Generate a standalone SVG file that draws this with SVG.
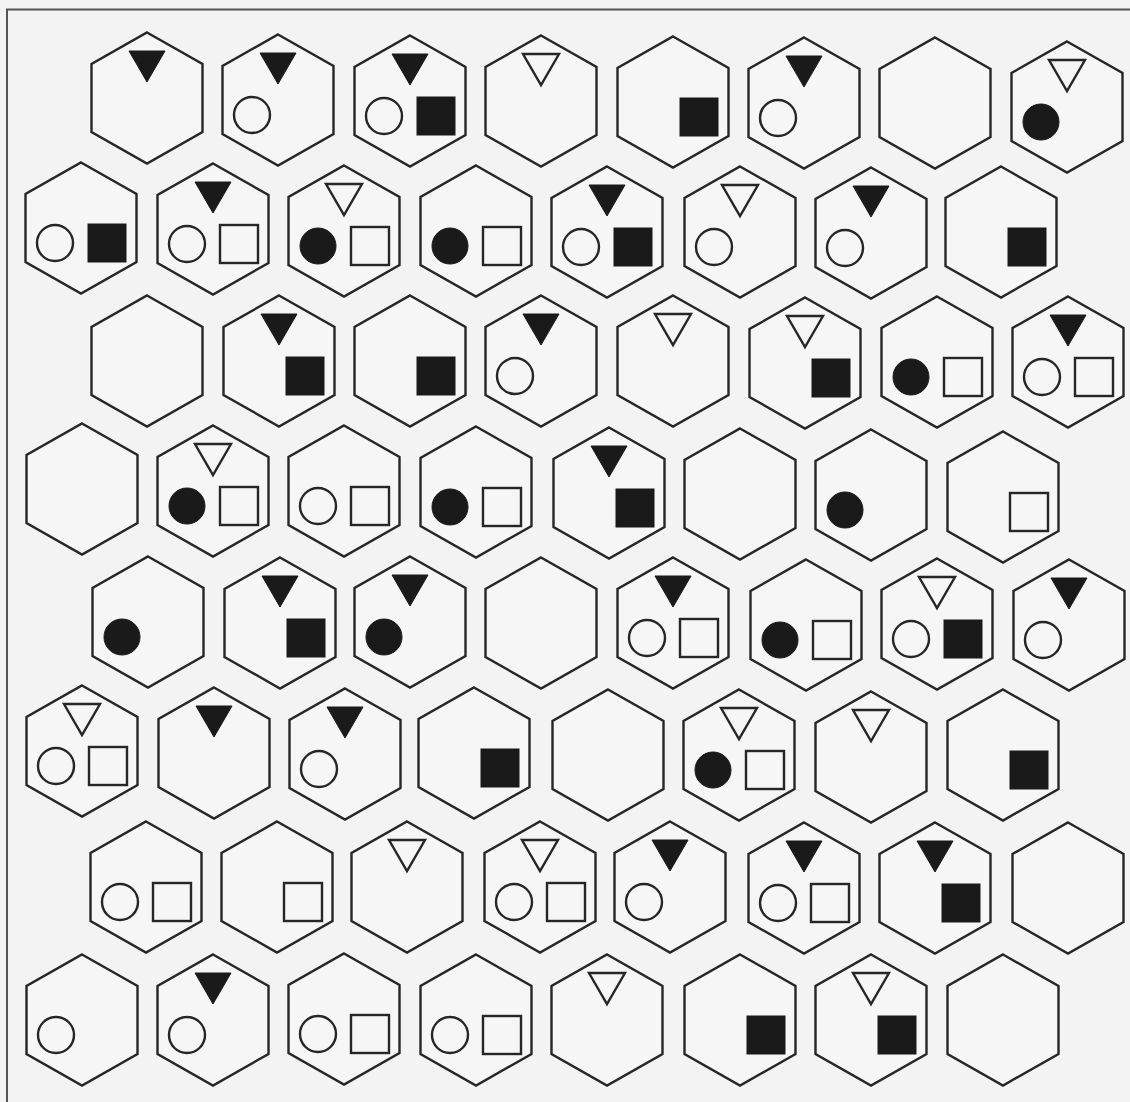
<svg xmlns="http://www.w3.org/2000/svg" xmlns:xlink="http://www.w3.org/1999/xlink" width="1130" height="1102" viewBox="0 0 1130 1102">
<style>
.bg{fill:#f3f3f3}
.frame{fill:none;stroke:#555;stroke-width:2}
.h{fill:#f6f6f6;stroke:#262626;stroke-width:2.4;stroke-linejoin:miter}
.o{fill:#f6f6f6;stroke:#262626;stroke-width:2.4}
.f{fill:#1a1a1a;stroke:#1a1a1a;stroke-width:1}
</style>
<defs>
<polygon id="hx" points="0,-65.5 55.5,-34 55.5,34 0,65.5 -55.5,34 -55.5,-34"/>
<polygon id="tr" points="-18,-47 18,-47 0,-16"/>
<circle id="ci" cx="-26" cy="15" r="18"/>
<rect id="sq" x="7" y="-4" width="38" height="38"/>
</defs>
<rect class="bg" x="0" y="0" width="1130" height="1102"/>
<g id="connectors"></g>
<polyline class="frame" points="7,1102 7,9.5 1130,9.5"/>

<g id="r1c1" transform="translate(147,98)"><use href="#hx" class="h"/><use href="#tr" class="f"/></g>
<g id="r1c2" transform="translate(278,100)"><use href="#hx" class="h"/><use href="#tr" class="f"/><use href="#ci" class="o"/></g>
<g id="r1c3" transform="translate(410,101)"><use href="#hx" class="h"/><use href="#tr" class="f"/><use href="#ci" class="o"/><use href="#sq" class="f"/></g>
<g id="r1c4" transform="translate(541,101)"><use href="#hx" class="h"/><use href="#tr" class="o"/></g>
<g id="r1c5" transform="translate(673,102)"><use href="#hx" class="h"/><use href="#sq" class="f"/></g>
<g id="r1c6" transform="translate(804,103)"><use href="#hx" class="h"/><use href="#tr" class="f"/><use href="#ci" class="o"/></g>
<g id="r1c7" transform="translate(935,103)"><use href="#hx" class="h"/></g>
<g id="r1c8" transform="translate(1067,107)"><use href="#hx" class="h"/><use href="#tr" class="o"/><use href="#ci" class="f"/></g>

<g id="r2c1" transform="translate(81,228)"><use href="#hx" class="h"/><use href="#ci" class="o"/><use href="#sq" class="f"/></g>
<g id="r2c2" transform="translate(213,229)"><use href="#hx" class="h"/><use href="#tr" class="f"/><use href="#ci" class="o"/><use href="#sq" class="o"/></g>
<g id="r2c3" transform="translate(344,231)"><use href="#hx" class="h"/><use href="#tr" class="o"/><use href="#ci" class="f"/><use href="#sq" class="o"/></g>
<g id="r2c4" transform="translate(476,231)"><use href="#hx" class="h"/><use href="#ci" class="f"/><use href="#sq" class="o"/></g>
<g id="r2c5" transform="translate(607,232)"><use href="#hx" class="h"/><use href="#tr" class="f"/><use href="#ci" class="o"/><use href="#sq" class="f"/></g>
<g id="r2c6" transform="translate(740,232)"><use href="#hx" class="h"/><use href="#tr" class="o"/><use href="#ci" class="o"/></g>
<g id="r2c7" transform="translate(871,233)"><use href="#hx" class="h"/><use href="#tr" class="f"/><use href="#ci" class="o"/></g>
<g id="r2c8" transform="translate(1001,232)"><use href="#hx" class="h"/><use href="#sq" class="f"/></g>

<g id="r3c1" transform="translate(147,361)"><use href="#hx" class="h"/></g>
<g id="r3c2" transform="translate(279,361)"><use href="#hx" class="h"/><use href="#tr" class="f"/><use href="#sq" class="f"/></g>
<g id="r3c3" transform="translate(410,361)"><use href="#hx" class="h"/><use href="#sq" class="f"/></g>
<g id="r3c4" transform="translate(541,361)"><use href="#hx" class="h"/><use href="#tr" class="f"/><use href="#ci" class="o"/></g>
<g id="r3c5" transform="translate(673,361)"><use href="#hx" class="h"/><use href="#tr" class="o"/></g>
<g id="r3c6" transform="translate(805,363)"><use href="#hx" class="h"/><use href="#tr" class="o"/><use href="#sq" class="f"/></g>
<g id="r3c7" transform="translate(937,362)"><use href="#hx" class="h"/><use href="#ci" class="f"/><use href="#sq" class="o"/></g>
<g id="r3c8" transform="translate(1068,362)"><use href="#hx" class="h"/><use href="#tr" class="f"/><use href="#ci" class="o"/><use href="#sq" class="o"/></g>

<g id="r4c1" transform="translate(82,489)"><use href="#hx" class="h"/></g>
<g id="r4c2" transform="translate(213,491)"><use href="#hx" class="h"/><use href="#tr" class="o"/><use href="#ci" class="f"/><use href="#sq" class="o"/></g>
<g id="r4c3" transform="translate(344,491)"><use href="#hx" class="h"/><use href="#ci" class="o"/><use href="#sq" class="o"/></g>
<g id="r4c4" transform="translate(476,492)"><use href="#hx" class="h"/><use href="#ci" class="f"/><use href="#sq" class="o"/></g>
<g id="r4c5" transform="translate(609,493)"><use href="#hx" class="h"/><use href="#tr" class="f"/><use href="#sq" class="f"/></g>
<g id="r4c6" transform="translate(740,494)"><use href="#hx" class="h"/></g>
<g id="r4c7" transform="translate(871,495)"><use href="#hx" class="h"/><use href="#ci" class="f"/></g>
<g id="r4c8" transform="translate(1003,497)"><use href="#hx" class="h"/><use href="#sq" class="o"/></g>

<g id="r5c1" transform="translate(148,622)"><use href="#hx" class="h"/><use href="#ci" class="f"/></g>
<g id="r5c2" transform="translate(280,623)"><use href="#hx" class="h"/><use href="#tr" class="f"/><use href="#sq" class="f"/></g>
<g id="r5c3" transform="translate(410,622)"><use href="#hx" class="h"/><use href="#tr" class="f"/><use href="#ci" class="f"/></g>
<g id="r5c4" transform="translate(541,623)"><use href="#hx" class="h"/></g>
<g id="r5c5" transform="translate(673,623)"><use href="#hx" class="h"/><use href="#tr" class="f"/><use href="#ci" class="o"/><use href="#sq" class="o"/></g>
<g id="r5c6" transform="translate(806,625)"><use href="#hx" class="h"/><use href="#ci" class="f"/><use href="#sq" class="o"/></g>
<g id="r5c7" transform="translate(937,624)"><use href="#hx" class="h"/><use href="#tr" class="o"/><use href="#ci" class="o"/><use href="#sq" class="f"/></g>
<g id="r5c8" transform="translate(1069,625)"><use href="#hx" class="h"/><use href="#tr" class="f"/><use href="#ci" class="o"/></g>

<g id="r6c1" transform="translate(82,751)"><use href="#hx" class="h"/><use href="#tr" class="o"/><use href="#ci" class="o"/><use href="#sq" class="o"/></g>
<g id="r6c2" transform="translate(214,753)"><use href="#hx" class="h"/><use href="#tr" class="f"/></g>
<g id="r6c3" transform="translate(345,754)"><use href="#hx" class="h"/><use href="#tr" class="f"/><use href="#ci" class="o"/></g>
<g id="r6c4" transform="translate(474,753)"><use href="#hx" class="h"/><use href="#sq" class="f"/></g>
<g id="r6c5" transform="translate(608,755)"><use href="#hx" class="h"/></g>
<g id="r6c6" transform="translate(739,755)"><use href="#hx" class="h"/><use href="#tr" class="o"/><use href="#ci" class="f"/><use href="#sq" class="o"/></g>
<g id="r6c7" transform="translate(871,757)"><use href="#hx" class="h"/><use href="#tr" class="o"/></g>
<g id="r6c8" transform="translate(1003,755)"><use href="#hx" class="h"/><use href="#sq" class="f"/></g>

<g id="r7c1" transform="translate(146,887)"><use href="#hx" class="h"/><use href="#ci" class="o"/><use href="#sq" class="o"/></g>
<g id="r7c2" transform="translate(277,887)"><use href="#hx" class="h"/><use href="#sq" class="o"/></g>
<g id="r7c3" transform="translate(407,887)"><use href="#hx" class="h"/><use href="#tr" class="o"/></g>
<g id="r7c4" transform="translate(540,887)"><use href="#hx" class="h"/><use href="#tr" class="o"/><use href="#ci" class="o"/><use href="#sq" class="o"/></g>
<g id="r7c5" transform="translate(670,887)"><use href="#hx" class="h"/><use href="#tr" class="f"/><use href="#ci" class="o"/></g>
<g id="r7c6" transform="translate(804,888)"><use href="#hx" class="h"/><use href="#tr" class="f"/><use href="#ci" class="o"/><use href="#sq" class="o"/></g>
<g id="r7c7" transform="translate(935,888)"><use href="#hx" class="h"/><use href="#tr" class="f"/><use href="#sq" class="f"/></g>
<g id="r7c8" transform="translate(1068,888)"><use href="#hx" class="h"/></g>

<g id="r8c1" transform="translate(82,1020)"><use href="#hx" class="h"/><use href="#ci" class="o"/></g>
<g id="r8c2" transform="translate(213,1020)"><use href="#hx" class="h"/><use href="#tr" class="f"/><use href="#ci" class="o"/></g>
<g id="r8c3" transform="translate(344,1019)"><use href="#hx" class="h"/><use href="#ci" class="o"/><use href="#sq" class="o"/></g>
<g id="r8c4" transform="translate(476,1020)"><use href="#hx" class="h"/><use href="#ci" class="o"/><use href="#sq" class="o"/></g>
<g id="r8c5" transform="translate(607,1020)"><use href="#hx" class="h"/><use href="#tr" class="o"/></g>
<g id="r8c6" transform="translate(740,1020)"><use href="#hx" class="h"/><use href="#sq" class="f"/></g>
<g id="r8c7" transform="translate(871,1020)"><use href="#hx" class="h"/><use href="#tr" class="o"/><use href="#sq" class="f"/></g>
<g id="r8c8" transform="translate(1003,1020)"><use href="#hx" class="h"/></g>
</svg>
